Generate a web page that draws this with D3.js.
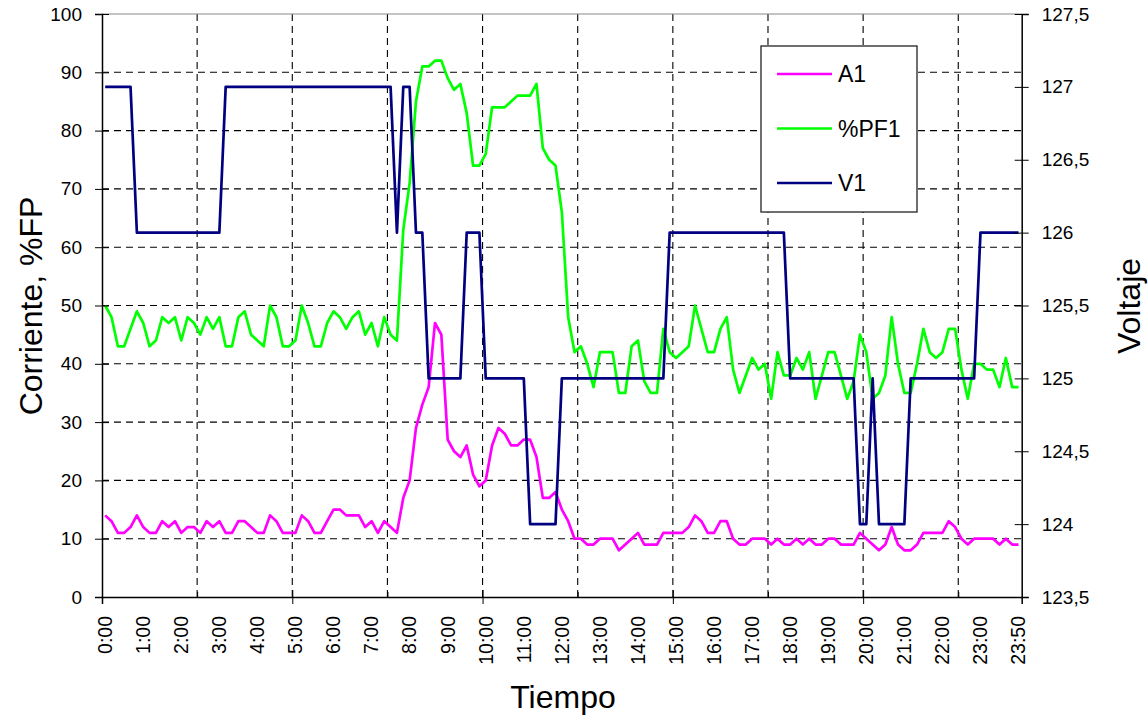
<html>
<head>
	<script src="https://cdn.jsdelivr.net/npm/d3@7"></script>
	<style type="text/css">
	body { margin: 0; background: white; }
	text { font-family: Arial, "Liberation Sans", sans-serif; }
	</style>
</head>
<body>
<script type="text/javascript">
	//Width and height
	var w = 1148;
	var h = 719;
	var pLeft = 102, pRight = 1021.7, pTop = 14, pBottom = 597;

	// one point every 10 min, 145 readings
	var tickLabels = ["0:00","1:00","2:00","3:00","4:00","5:00","6:00","7:00","8:00","9:00","10:00","11:00",
		"12:00","13:00","14:00","15:00","16:00","17:00","18:00","19:00","20:00","21:00","22:00","23:00","23:50"];
	var labelStep = 6;

	var A1 = [14,13,11,11,12,14,12,11,11,13, 12,13,11,12,12,11,13,12,13,11,
		11,13,13,12,11,11,14,13,11,11, 11,14,13,11,11,13,15,15,14,14,
		14,12,13,11,13,12,11,17,20,29, 33,36,47,45,27,25,24,26,21,19,
		20,26,29,28,26,26,27,27,24,17, 17,18,15,13,10,10,9,9,10,10,
		10,8,9,10,11,9,9,9,11,11, 11,11,12,14,13,11,11,13,13,10,
		9,9,10,10,10,9,10,9,9,10, 9,10,9,9,10,10,9,9,9,11,
		10,9,8,9,12,9,8,8,9,11, 11,11,11,13,12,10,9,10,10,10,
		10,9,10,9,9];

	var PF1 = [50,48,43,43,46,49,47,43,44,48, 47,48,44,48,47,45,48,46,48,43,
		43,48,49,45,44,43,50,48,43,43, 44,50,47,43,43,47,49,48,46,48,
		49,45,47,43,48,45,44,63,71,85, 91,91,92,92,89,87,88,83,74,74,
		76,84,84,84,85,86,86,86,88,77, 75,74,66,48,42,43,40,36,42,42,
		42,35,35,43,44,37,35,35,46,42, 41,42,43,50,46,42,42,46,48,39,
		35,38,41,39,40,34,42,38,38,41, 39,42,34,38,42,42,38,34,37,45,
		42,34,35,38,48,40,35,35,40,46, 42,41,42,46,46,39,34,40,40,39,
		39,36,41,36,36];

	var V1 = [127,127,127,127,127,126,126,126,126,126, 126,126,126,126,126,126,126,126,126,127,
		127,127,127,127,127,127,127,127,127,127, 127,127,127,127,127,127,127,127,127,127,
		127,127,127,127,127,127,126,127,127,126, 126,125,125,125,125,125,125,126,126,126,
		125,125,125,125,125,125,125,124,124,124, 124,124,125,125,125,125,125,125,125,125,
		125,125,125,125,125,125,125,125,125,126, 126,126,126,126,126,126,126,126,126,126,
		126,126,126,126,126,126,126,126,125,125, 125,125,125,125,125,125,125,125,125,124,
		124,125,124,124,124,124,124,125,125,125, 125,125,125,125,125,125,125,125,126,126,
		126,126,126,126,126];

	var series = [
		{name: "A1", values: A1, color: "#FF00FF", axis: "left"},
		{name: "%PF1", values: PF1, color: "#00FF00", axis: "left"},
		{name: "V1", values: V1, color: "#000080", axis: "right"}
	];

	//Create SVG element
	var svg = d3.select("body")
		.append("svg")
		.attr("width", w)
		.attr("height", h);

	// category boundaries, points sit in the middle of each one
	var xb = d3.scaleLinear().domain([0, A1.length]).range([pLeft, pRight]);
	var x = function(i) { return xb(i + 0.5); };
	var yL = d3.scaleLinear().domain([0, 100]).range([pBottom, pTop]);
	var yR = d3.scaleLinear().domain([123.5, 127.5]).range([pBottom, pTop]);

	// grid
	svg.append("g")
		.selectAll("line")
		.data(d3.range(10, 100, 10))
		.enter().append("line")
		.attr("x1", pLeft).attr("x2", pRight)
		.attr("y1", function(d) { return yL(d); })
		.attr("y2", function(d) { return yL(d); })
		.attr("style", "stroke: #000; stroke-width: 1.1; stroke-dasharray: 7,5;");
	svg.append("g")
		.selectAll("line")
		.data(d3.range(15, A1.length, 15))
		.enter().append("line")
		.attr("x1", function(d) { return xb(d); })
		.attr("x2", function(d) { return xb(d); })
		.attr("y1", pTop).attr("y2", pBottom)
		.attr("style", "stroke: #000; stroke-width: 1.1; stroke-dasharray: 7,5;");
	svg.append("line")
		.attr("x1", pLeft).attr("x2", pRight)
		.attr("y1", pTop).attr("y2", pTop)
		.attr("style", "stroke: #888; stroke-width: 1;");

	// lines
	series.forEach(function(s) {
		var sc = s.axis == "left" ? yL : yR;
		var line = d3.line()
			.x(function(d, i) { return x(i); })
			.y(function(d) { return sc(d); });
		svg.append("path")
			.datum(s.values)
			.attr("d", line)
			.attr("fill", "none")
			.attr("stroke", s.color)
			.attr("stroke-width", 2.7)
			.attr("stroke-linejoin", "round");
	});

	// left axis
	var gL = svg.append("g")
		.attr("transform", "translate(" + pLeft + ",0)")
		.call(d3.axisLeft(yL).tickValues(d3.range(0, 101, 10)).tickSize(7).tickPadding(13));
	gL.selectAll(".tick line").attr("x1", 7);
	// right axis
	var gR = svg.append("g")
		.attr("transform", "translate(" + pRight + ",0)")
		.call(d3.axisRight(yR).tickValues(d3.range(123.5, 127.6, 0.5)).tickSize(7).tickPadding(13)
			.tickFormat(function(d) { return String(d).replace(".", ","); }));
	gR.selectAll(".tick line").attr("x1", -7);
	// bottom axis: major and minor ticks on boundaries
	var gB = svg.append("g")
		.attr("transform", "translate(0," + pBottom + ")")
		.call(d3.axisBottom(xb).tickValues(d3.range(0, 121, 30)).tickSize(7).tickFormat(""));
	gB.selectAll(".tick line").attr("y1", -7);
	var gM = svg.append("g")
		.attr("transform", "translate(0," + pBottom + ")")
		.call(d3.axisBottom(xb).tickValues(d3.range(15, 136, 30)).tickSize(-5).tickFormat(""));
	gM.select(".domain").remove();

	// time labels
	svg.append("g")
		.selectAll("text")
		.data(tickLabels)
		.enter().append("text")
		.text(function(d) { return d; })
		.attr("transform", function(d, i) { return "translate(" + x(i * labelStep) + "," + pBottom + ") rotate(-90)"; })
		.attr("text-anchor", "end")
		.attr("x", -19)
		.attr("dy", "0.35em")
		.attr("font-size", 19.5);

	svg.selectAll(".domain").attr("stroke", "#000").attr("stroke-width", 1.5);
	svg.selectAll(".tick text").attr("font-size", 19).attr("fill", "#000");

	// titles
	svg.append("text")
		.text("Corriente, %FP")
		.attr("text-anchor", "middle")
		.attr("font-size", 32)
		.attr("transform", "translate(42,306) rotate(-90)");
	svg.append("text")
		.text("Voltaje")
		.attr("text-anchor", "middle")
		.attr("font-size", 32)
		.attr("transform", "translate(1140,306) rotate(-90)");
	svg.append("text")
		.text("Tiempo")
		.attr("text-anchor", "middle")
		.attr("font-size", 32)
		.attr("x", 563)
		.attr("y", 708);

	// legend
	var lg = svg.append("g");
	lg.append("rect")
		.attr("x", 761).attr("y", 46)
		.attr("width", 156).attr("height", 166)
		.attr("style", "fill: white; stroke: #222; stroke-width: 1.3;");
	series.forEach(function(s, i) {
		var ly = 74 + i * 54.5;
		lg.append("line")
			.attr("x1", 777).attr("x2", 832)
			.attr("y1", ly).attr("y2", ly)
			.attr("stroke", s.color)
			.attr("stroke-width", 2.7);
		lg.append("text")
			.text(s.name)
			.attr("x", 838)
			.attr("y", ly)
			.attr("dy", "0.36em")
			.attr("font-size", 23);
	});
</script>
</body>
</html>
